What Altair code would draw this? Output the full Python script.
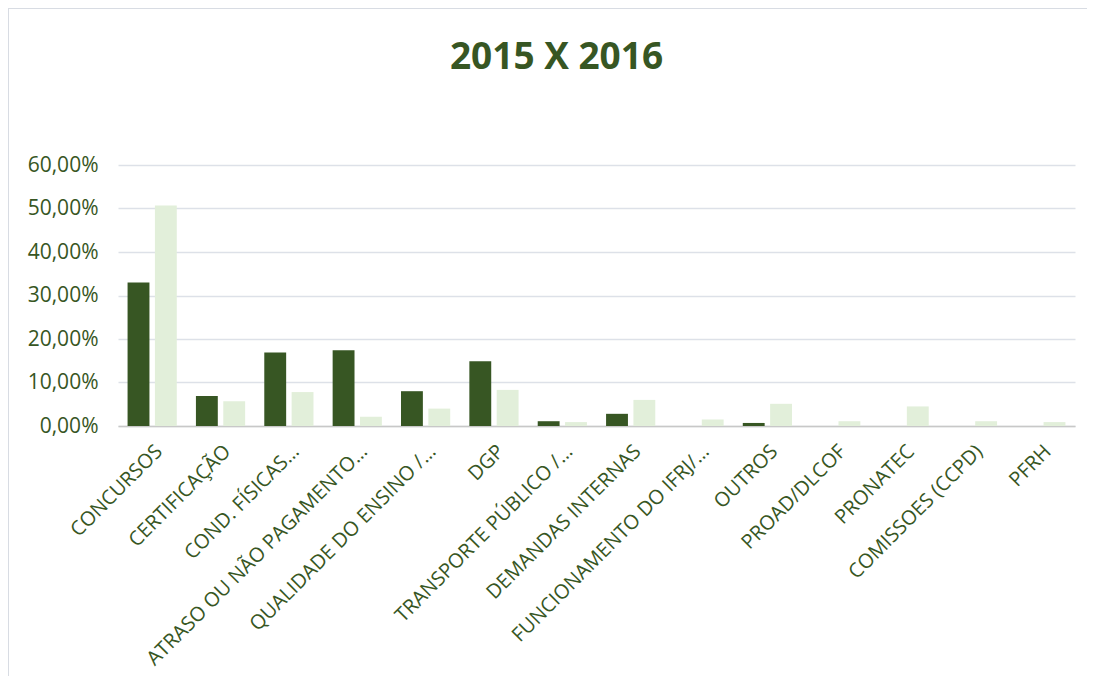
import altair as alt
import pandas as pd

categories = [
    "CONCURSOS", "CERTIFICAÇÃO", "COND. FÍSICAS…", "ATRASO OU NÃO PAGAMENTO…",
    "QUALIDADE DO ENSINO /…", "DGP", "TRANSPORTE PÚBLICO /…", "DEMANDAS INTERNAS",
    "FUNCIONAMENTO DO IFRJ/…", "OUTROS", "PROAD/DLCOF", "PRONATEC",
    "COMISSOES (CCPD)", "PFRH",
]
v2015 = [33.0, 6.9, 16.9, 17.4, 8.0, 14.9, 1.1, 2.8, 0.0, 0.7, 0.0, 0.0, 0.0, 0.0]
v2016 = [50.7, 5.7, 7.8, 2.1, 4.0, 8.3, 0.9, 6.0, 1.5, 5.1, 1.1, 4.5, 1.1, 0.9]
years = ["2015", "2016"]
colors = ["#375623", "#E2EFDA"]
y_ticks = [0, 0.1, 0.2, 0.3, 0.4, 0.5, 0.6]

rows = []
for c, a, b in zip(categories, v2015, v2016):
    rows.append({"cat": c, "year": years[0], "val": a / 100})
    rows.append({"cat": c, "year": years[1], "val": b / 100})
df = pd.DataFrame(rows)

TXT = "#375623"
FONT = "Open Sans"

bars = (
    alt.Chart(df)
    .mark_bar()
    .encode(
        x=alt.X(
            "cat:N",
            sort=categories,
            title=None,
            scale=alt.Scale(paddingInner=0.28, paddingOuter=0.14),
            axis=alt.Axis(
                labelAngle=-45,
                labelFontSize=20,
                labelFont=FONT,
                labelColor=TXT,
                labelLimit=500,
                ticks=False,
                domainColor="#C8C8C8",
                domainWidth=1.5,
                labelPadding=15,
            ),
        ),
        xOffset=alt.XOffset("year:N", sort=years, scale=alt.Scale(paddingInner=0.2)),
        y=alt.Y(
            "val:Q",
            title=None,
            scale=alt.Scale(domain=[0, 0.6], nice=False),
            axis=alt.Axis(
                values=y_ticks,
                labelExpr="replace(format(datum.value, '.2%'), '.', ',')",
                labelFontSize=21,
                labelFont=FONT,
                labelColor=TXT,
                labelPadding=20,
                ticks=False,
                domain=False,
                gridColor="#DDE1E8",
                gridWidth=1.5,
            ),
        ),
        color=alt.Color(
            "year:N",
            sort=years,
            scale=alt.Scale(domain=years, range=colors),
            legend=None,
        ),
    )
)

# decorative frame edges (left and top) as in the reference screenshot
frame_df = pd.DataFrame({"k": [0]})
left_edge = alt.Chart(frame_df).mark_rule(color="#D8DCE3", strokeWidth=2).encode(
    x=alt.value(-110), x2=alt.value(-110), y=alt.value(-157), y2=alt.value(520)
)
top_edge = alt.Chart(frame_df).mark_rule(color="#D8DCE3", strokeWidth=2).encode(
    x=alt.value(-110), x2=alt.value(969), y=alt.value(-157), y2=alt.value(-157)
)

chart = (
    alt.layer(bars, left_edge, top_edge)
    .properties(
        width=957,
        height=261,
        title=alt.TitleParams(
            "2015 X 2016",
            fontSize=37,
            font=FONT,
            fontWeight="bold",
            color=TXT,
            anchor="middle",
            dx=-40,
            offset=-70,
        ),
        background="white",
        autosize=alt.AutoSizeParams(type="none"),
        padding={"left": 110, "top": 157, "right": 12, "bottom": 250},
    )
    .configure_view(stroke=None)
)

chart.save("out.html", embed_options={"renderer": "svg", "actions": False})
